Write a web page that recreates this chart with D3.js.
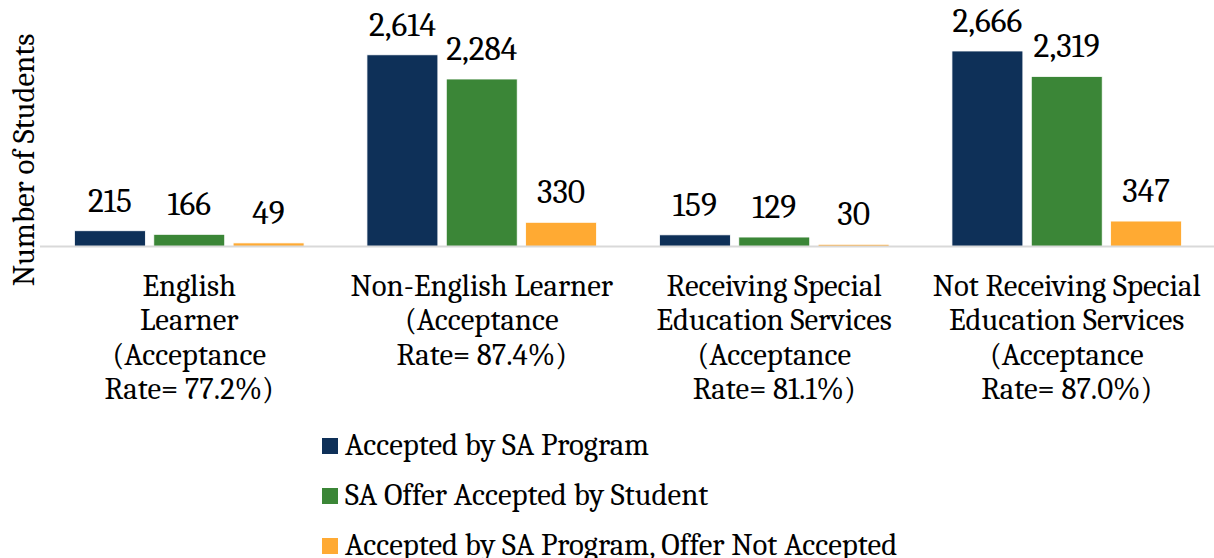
<!DOCTYPE html>
<html>
<head>
<meta charset="utf-8">
<script src="https://cdn.jsdelivr.net/npm/d3@7"></script>
<style>
  body { margin: 0; background: #fff; }
  text { font-family: Cambria, "Liberation Serif", serif; fill: #000; }
</style>
</head>
<body>
<div id="chart"></div>
<script>
// chart data
var categories = ["EL", "NonEL", "SpEd", "NonSpEd"];
var categoryLines = [
  ["English", "Learner", "(Acceptance", "Rate= 77.2%)"],
  ["Non-English Learner", "(Acceptance", "Rate= 87.4%)"],
  ["Receiving Special", "Education Services", "(Acceptance", "Rate= 81.1%)"],
  ["Not Receiving Special", "Education Services", "(Acceptance", "Rate= 87.0%)"]
];
var seriesNames = [
  "Accepted by SA Program",
  "SA Offer Accepted by Student",
  "Accepted by SA Program, Offer Not Accepted"
];
var acceptedByProgram = [215, 2614, 159, 2666];
var acceptedByStudent = [166, 2284, 129, 2319];
var notAccepted = [49, 330, 30, 347];
var colors = ["#0e3058", "#3b8637", "#ffaa33"];

var svgWidth = 1214;
var svgHeight = 558;
var fontSize = 30.8;
var valueFontSize = 33.5;

var svg = d3.select("#chart")
  .append("svg")
  .attr("width", svgWidth)
  .attr("height", svgHeight);

var seriesValues = [acceptedByProgram, acceptedByStudent, notAccepted];
var table = categories.map(function(c, i) {
  return { key: c, values: seriesNames.map(function(s, j) {
    return { series: s, idx: j, value: seriesValues[j][i] };
  }) };
});

// scales
var x0 = d3.scaleBand()
  .domain(categories)
  .range([43, 1213])
  .paddingInner(0.215)
  .paddingOuter(0.1075);

var x1 = d3.scaleBand()
  .domain(seriesNames)
  .range([0, x0.bandwidth()])
  .paddingInner(0.106);

var yScale = d3.scaleLinear()
  .domain([0, 3000])
  .range([246.5, 26.5]);

// bars
var groups = svg.selectAll("g.cat")
  .data(table)
  .enter()
  .append("g")
  .attr("class", "cat")
  .attr("transform", d => `translate(${x0(d.key)},0)`);

groups.selectAll("rect")
  .data(d => d.values)
  .enter()
  .append("rect")
  .attr("x", d => x1(d.series))
  .attr("y", d => yScale(d.value))
  .attr("width", x1.bandwidth())
  .attr("height", d => yScale(0) - yScale(d.value))
  .attr("fill", d => colors[d.idx])
  .attr("stroke", "#ffffff")
  .attr("stroke-width", 0.8);

// value labels
groups.selectAll("text.val")
  .data(d => d.values)
  .enter()
  .append("text")
  .attr("class", "val")
  .attr("x", d => x1(d.series) + x1.bandwidth() / 2)
  .attr("y", d => yScale(d.value) - 19)
  .attr("text-anchor", "middle")
  .attr("font-size", valueFontSize + "px")
  .text(d => d3.format(",")(d.value));

// x axis (baseline only)
var xAxis = d3.axisBottom(x0).tickSize(0).tickFormat("");
var axisG = svg.append("g")
  .attr("transform", `translate(0, ${yScale(0)})`)
  .call(xAxis);
axisG.select(".domain")
  .attr("d", "M40,0H1214")
  .attr("stroke", "#d9d9d9")
  .attr("stroke-width", 2);

// category labels
var catLabels = svg.selectAll("text.cat")
  .data(categories)
  .enter()
  .append("text")
  .attr("class", "cat")
  .attr("text-anchor", "middle")
  .attr("font-size", fontSize + "px");

catLabels.each(function(c, i) {
  var t = d3.select(this);
  categoryLines[i].forEach(function(line, k) {
    t.append("tspan")
      .attr("x", x0(c) + x0.bandwidth() / 2)
      .attr("y", 296 + k * 34.3)
      .text(line);
  });
});

// y axis title
svg.append("text")
  .attr("transform", "translate(34, 160) rotate(-90)")
  .attr("text-anchor", "middle")
  .attr("font-size", fontSize + "px")
  .text("Number of Students");

// legend
var legend = svg.selectAll("g.legend")
  .data(seriesNames)
  .enter()
  .append("g")
  .attr("class", "legend")
  .attr("transform", (d, i) => `translate(322, ${438 + i * 50})`);

legend.append("rect")
  .attr("width", 16)
  .attr("height", 16)
  .attr("fill", (d, i) => colors[i]);

legend.append("text")
  .attr("x", 23)
  .attr("y", 17)
  .attr("font-size", fontSize + "px")
  .text(d => d);
</script>
</body>
</html>
